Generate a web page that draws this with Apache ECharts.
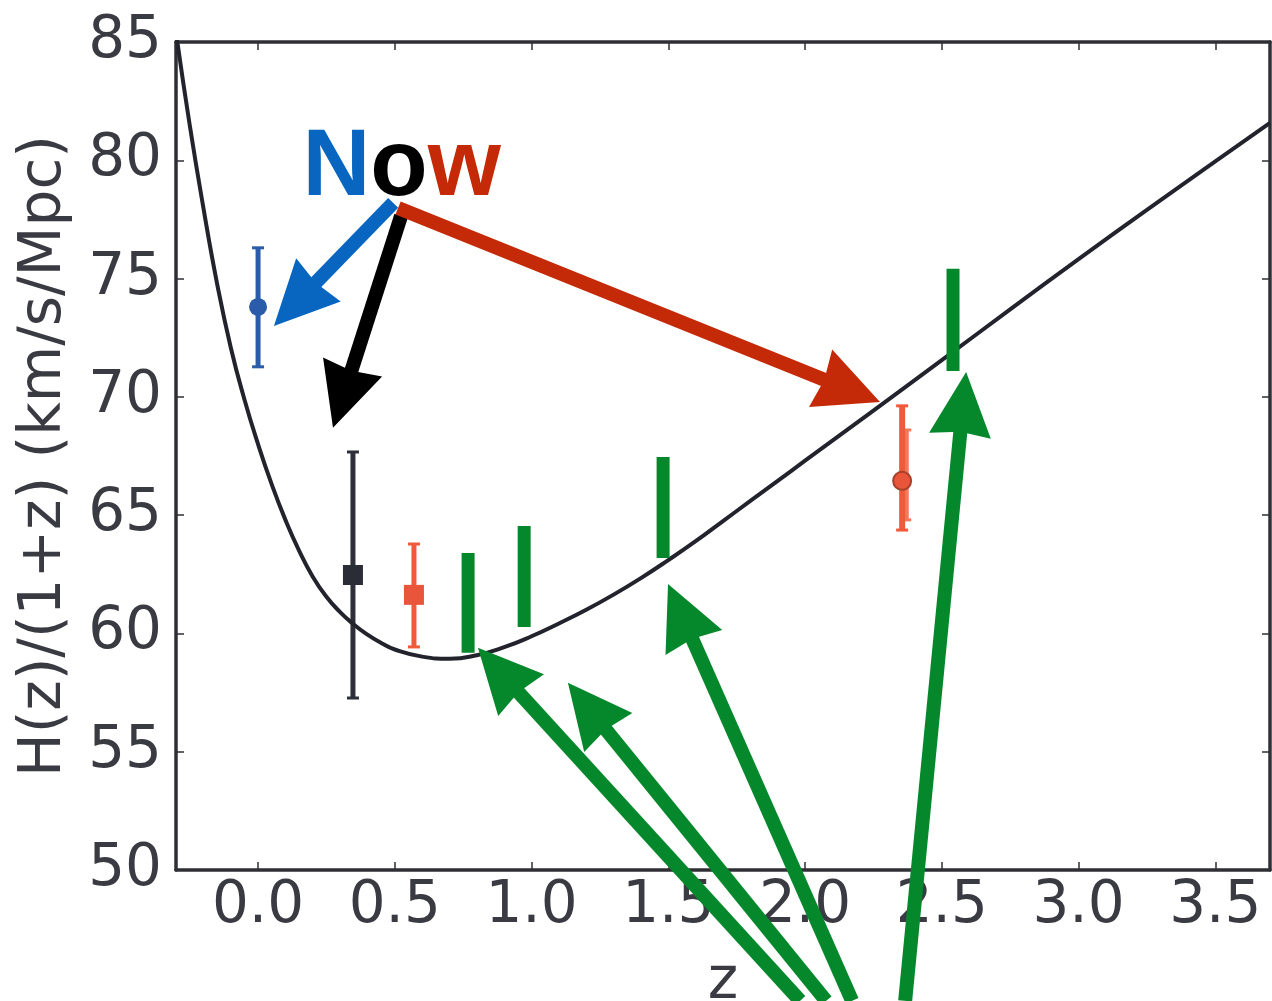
<!DOCTYPE html>
<html><head><meta charset="utf-8">
<script src="https://cdn.jsdelivr.net/npm/echarts@6/dist/echarts.min.js"></script>
<style>html,body{margin:0;padding:0;background:#fff}#c{width:1272px;height:1001px}</style>
</head><body><div id="c"></div>
<script>
// ---- data ----
const curveZ = [-0.30,-0.25,-0.20,-0.15,-0.10,-0.05,0.00,0.05,0.10,0.15,0.20,0.25,0.30,0.35,0.40,0.45,0.50,0.60,0.70,0.80,0.90,1.00,1.10,1.20,1.30,1.40,1.50,1.60,1.70,1.80,1.90,2.00,2.25,2.50,2.75,3.00,3.25,3.50,3.70];
const curveH = [85.4,81.5,78.0,74.8,72.1,69.9,68.0,66.3,64.8,63.5,62.4,61.55,60.9,60.38,59.95,59.6,59.32,59.02,58.93,59.08,59.42,59.88,60.42,61.0,61.64,62.34,63.1,63.9,64.75,65.6,66.45,67.3,69.42,71.55,73.7,75.82,77.9,79.95,81.58];

const blueZ = [0.0], blueH = [73.8], blueLo = [71.27], blueHi = [76.3];
const blackZ = [0.347], blackH = [62.47], blackLo = [57.27], blackHi = [67.67];
const orangeSqZ = [0.57], orangeSqH = [61.63], orangeSqLo = [59.43], orangeSqHi = [63.78];
const orangeCiZ = [2.355], orangeCiH = [66.45], orangeCiLo = [64.37], orangeCiHi = [69.62];
const orangeXZ = [2.37], orangeXLo = [64.8], orangeXHi = [68.6];

const greenZ = [0.768, 0.973, 1.481, 2.541];
const greenLo = [59.18, 60.27, 63.19, 71.09];
const greenHi = [63.40, 64.54, 67.46, 75.41];

// arrows: [z, H] of tail and tip (order: black, red, blue)
const nowArrowTail = [[0.523,77.65],[0.512,77.98],[0.494,78.2]];
const nowArrowTip  = [[0.274,68.69],[2.274,69.78],[0.058,73.0]];
const greenArrowTail = [[1.982,44.47],[2.077,44.47],[2.172,44.47],[2.366,44.47]];
const greenArrowTip  = [[0.804,59.39],[1.133,57.91],[1.499,62.09],[2.589,71.05]];

const xTicks = [0.0,0.5,1.0,1.5,2.0,2.5,3.0,3.5];
const nowLabelPos = [0.525, 79.62];

// ---- styles ----
const nowArrowColors = ['#000000', '#c42a08', '#0866c1'];
const greenColor = '#05882b';
const axisColor = '#2f2f36';
const labelColor = '#3a3a42';
const FONT = 'DejaVu Sans';

const chart = echarts.init(document.getElementById('c'), null, {renderer: 'canvas'});

function zip2(a, b) { return a.map((v, i) => [v, b[i]]); }

function arrowItem(params, api, color) {
  const p0 = api.coord([api.value(0), api.value(1)]);
  const p1 = api.coord([api.value(2), api.value(3)]);
  const dx = p1[0] - p0[0], dy = p1[1] - p0[1];
  const len = Math.sqrt(dx*dx + dy*dy);
  const ux = dx/len, uy = dy/len, nx = -uy, ny = ux;
  const L = 64, W = 31, notch = 4;
  const bx = p1[0] - ux*L, by = p1[1] - uy*L;
  return {
    type: 'group',
    children: [
      {type: 'line', shape: {x1: p0[0], y1: p0[1], x2: bx + ux*8, y2: by + uy*8},
       style: {stroke: color, lineWidth: 14, lineCap: 'butt'}},
      {type: 'polygon', shape: {points: [[p1[0], p1[1]], [bx + nx*W, by + ny*W], [bx + ux*notch, by + uy*notch], [bx - nx*W, by - ny*W]]},
       style: {fill: color}}
    ]
  };
}

function errItem(color, lw, cap) {
  return function (params, api) {
    const lo = api.coord([api.value(0), api.value(1)]);
    const hi = api.coord([api.value(0), api.value(2)]);
    const ch = [];
    ch.push({type: 'line', shape: {x1: lo[0], y1: lo[1], x2: hi[0], y2: hi[1]}, style: {stroke: color, lineWidth: lw}});
    if (cap > 0) {
      ch.push({type: 'line', shape: {x1: lo[0]-cap/2, y1: lo[1], x2: lo[0]+cap/2, y2: lo[1]}, style: {stroke: color, lineWidth: 3}});
      ch.push({type: 'line', shape: {x1: hi[0]-cap/2, y1: hi[1], x2: hi[0]+cap/2, y2: hi[1]}, style: {stroke: color, lineWidth: 3}});
    }
    return {type: 'group', children: ch};
  };
}

function errData(z, lo, hi) { return z.map((v, i) => [v, lo[i], hi[i]]); }

const nowArrowData = nowArrowTail.map((t, i) => [t[0], t[1], nowArrowTip[i][0], nowArrowTip[i][1]]);
const greenArrowData = greenArrowTail.map((t, i) => [t[0], t[1], greenArrowTip[i][0], greenArrowTip[i][1]]);

const option = {
  animation: false,
  backgroundColor: '#ffffff',
  grid: {left: 176, right: 2, top: 42, bottom: 131, containLabel: false, outerBoundsMode: 'none'},
  xAxis: [{
    type: 'value', min: -0.3, max: 3.7, position: 'bottom',
    axisLine: {show: true, onZero: false, lineStyle: {color: axisColor, width: 3.5}},
    axisTick: {show: true, inside: true, length: 8, customValues: xTicks, lineStyle: {color: axisColor, width: 1.5}},
    axisLabel: {show: true, customValues: xTicks, formatter: v => Number(v).toFixed(1), fontSize: 58, fontFamily: FONT, color: labelColor, margin: 8},
    splitLine: {show: false},
    name: 'z', nameLocation: 'middle', nameGap: 84,
    nameTextStyle: {fontSize: 58, fontFamily: FONT, color: labelColor}
  }, {
    type: 'value', min: -0.3, max: 3.7, position: 'top',
    axisLine: {show: true, onZero: false, lineStyle: {color: axisColor, width: 3.5}},
    axisTick: {show: true, inside: true, length: 8, customValues: xTicks, lineStyle: {color: axisColor, width: 1.5}},
    axisLabel: {show: false}, splitLine: {show: false}
  }],
  yAxis: [{
    type: 'value', min: 50, max: 85, interval: 5, position: 'left',
    axisLine: {show: true, onZero: false, lineStyle: {color: axisColor, width: 3.5}},
    axisTick: {show: true, inside: true, length: 8, lineStyle: {color: axisColor, width: 1.5}},
    axisLabel: {fontSize: 58, fontFamily: FONT, color: labelColor, margin: 14},
    splitLine: {show: false},
    name: 'H(z)/(1+z) (km/s/Mpc)', nameLocation: 'middle', nameGap: 102,
    nameTextStyle: {fontSize: 58, fontFamily: FONT, color: labelColor}
  }, {
    type: 'value', min: 50, max: 85, interval: 5, position: 'right',
    axisLine: {show: true, onZero: false, lineStyle: {color: axisColor, width: 3.5}},
    axisTick: {show: true, inside: true, length: 8, lineStyle: {color: axisColor, width: 1.5}},
    axisLabel: {show: false}, splitLine: {show: false}
  }],
  series: [
    {type: 'custom', name: 'blackErr', renderItem: errItem('#2e3039', 5, 12), data: errData(blackZ, blackLo, blackHi), z: 3},
    {type: 'custom', name: 'blueErr', renderItem: errItem('#2a5caa', 5, 12), data: errData(blueZ, blueLo, blueHi), z: 3},
    {type: 'custom', name: 'orSqErr', renderItem: errItem('#ee5a3a', 5, 12), data: errData(orangeSqZ, orangeSqLo, orangeSqHi), z: 3},
    {type: 'custom', name: 'orXErr', renderItem: errItem('#f27a5c', 5, 10), data: errData(orangeXZ, orangeXLo, orangeXHi), z: 3},
    {type: 'custom', name: 'orCiErr', renderItem: errItem('#ee5a3a', 6, 12), data: errData(orangeCiZ, orangeCiLo, orangeCiHi), z: 3},
    {type: 'line', name: 'model', data: zip2(curveZ, curveH), showSymbol: false, smooth: 0.5,
     lineStyle: {color: '#23232d', width: 4}, z: 4, clip: true},
    {type: 'scatter', name: 'blue', data: zip2(blueZ, blueH), symbol: 'circle', symbolSize: 18, itemStyle: {color: '#2a5caa', opacity: 1}, z: 5},
    {type: 'scatter', name: 'black', data: zip2(blackZ, blackH), symbol: 'rect', symbolSize: 20, itemStyle: {color: '#2b2d36', opacity: 1}, z: 5},
    {type: 'scatter', name: 'orSq', data: zip2(orangeSqZ, orangeSqH), symbol: 'rect', symbolSize: 20, itemStyle: {color: '#e8553a', opacity: 1}, z: 5},
    {type: 'scatter', name: 'orCi', data: zip2(orangeCiZ, orangeCiH), symbol: 'circle', symbolSize: 18, itemStyle: {color: '#e8553a', borderColor: '#a8402c', borderWidth: 2, opacity: 1}, z: 5},
    {type: 'custom', name: 'green', renderItem: function (params, api) {
        const lo = api.coord([api.value(0), api.value(1)]);
        const hi = api.coord([api.value(0), api.value(2)]);
        return {type: 'rect', shape: {x: lo[0] - 6.5, y: hi[1], width: 13, height: lo[1] - hi[1]}, style: {fill: greenColor}};
      }, data: errData(greenZ, greenLo, greenHi), z: 6},
    {type: 'custom', name: 'greenArrows', clip: false, renderItem: (p, api) => arrowItem(p, api, greenColor),
     data: greenArrowData, z: 8},
    {type: 'custom', name: 'nowArrows', clip: false, renderItem: (p, api) => arrowItem(p, api, nowArrowColors[p.dataIndex]),
     data: nowArrowData, z: 8}
  ]
};
chart.setOption(option);

const np = chart.convertToPixel({xAxisIndex: 0, yAxisIndex: 0}, nowLabelPos);
chart.setOption({
  graphic: [{
    type: 'text', x: np[0], y: np[1], z: 100,
    style: {
      text: '{a|N}{b|o}{c|w}', align: 'center', verticalAlign: 'middle',
      font: 'bold 94px "Liberation Sans"',
      rich: {
        a: {fill: '#0866c1', fontSize: 94, fontWeight: 'bold', fontFamily: 'Liberation Sans'},
        b: {fill: '#000000', fontSize: 94, fontWeight: 'bold', fontFamily: 'Liberation Sans'},
        c: {fill: '#c42a08', fontSize: 94, fontWeight: 'bold', fontFamily: 'Liberation Sans'}
      }
    }
  }]
});
</script>
</body></html>
